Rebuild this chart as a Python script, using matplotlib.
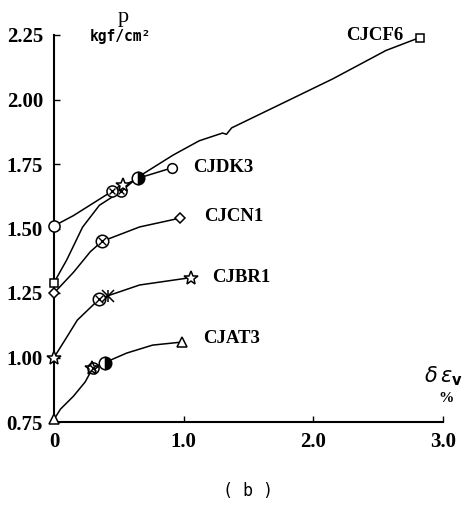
import matplotlib
matplotlib.use("Agg")
import matplotlib.pyplot as plt

# ---- data ----
cf6_x = [0.00, 0.10, 0.22, 0.35, 0.52, 0.65, 0.92, 1.12, 1.30, 1.33, 1.37, 1.74, 2.15, 2.56, 2.82]
cf6_y = [1.29, 1.38, 1.505, 1.59, 1.645, 1.70, 1.785, 1.84, 1.87, 1.865, 1.89, 1.98, 2.08, 2.19, 2.24]

dk3_x = [0.00, 0.15, 0.45, 0.65, 0.91]
dk3_y = [1.51, 1.55, 1.645, 1.695, 1.735]

cn1_x = [0.00, 0.15, 0.28, 0.37, 0.66, 0.97]
cn1_y = [1.25, 1.33, 1.41, 1.45, 1.506, 1.54]

br1_x = [0.00, 0.085, 0.18, 0.35, 0.42, 0.66, 1.06]
br1_y = [1.00, 1.068, 1.145, 1.227, 1.24, 1.281, 1.31]

at3_x = [0.00, 0.05, 0.15, 0.24, 0.30, 0.39, 0.56, 0.76, 0.99]
at3_y = [0.76, 0.80, 0.85, 0.905, 0.96, 0.98, 1.017, 1.048, 1.06]

series_labels = ["CJCF6", "CJDK3", "CJCN1", "CJBR1", "CJAT3"]
x_ticks = [0, 1.0, 2.0, 3.0]
x_ticklabels = ["0", "1.0", "2.0", "3.0"]
y_ticks = [0.75, 1.00, 1.25, 1.50, 1.75, 2.00, 2.25]
y_ticklabels = ["0.75", "1.00", "1.25", "1.50", "1.75", "2.00", "2.25"]

fig = plt.figure(figsize=(4.68, 5.16), dpi=100)
ax = fig.add_axes([54/468, (516-422)/516, (443-54)/468, (422-35)/516])
ax.set_xlim(0, 3.0)
ax.set_ylim(0.75, 2.25)

lw = 1.1
mk = dict(markerfacecolor="white", markeredgecolor="black", markeredgewidth=1.1, clip_on=False)

def plot_line(xs, ys):
    ax.plot(xs, ys, color="black", lw=lw, clip_on=False, zorder=2)

def mark(x, y, m, s=7, **kw):
    d = dict(mk)
    d.update(kw)
    ax.plot([x], [y], marker=m, markersize=s, linestyle="none", zorder=3, **d)

def crossed(x, y, s=8):
    mark(x, y, "o", s)
    ax.plot([x], [y], marker="x", markersize=s*0.6, color="black", mew=1.0,
            linestyle="none", zorder=4, clip_on=False)

def half(x, y, s=8):
    mark(x, y, "o", s, fillstyle="right", markerfacecoloralt="white", markerfacecolor="black")

for xs, ys in [(cf6_x, cf6_y), (dk3_x, dk3_y), (cn1_x, cn1_y), (br1_x, br1_y), (at3_x, at3_y)]:
    plot_line(xs, ys)

# CF6
mark(cf6_x[0], cf6_y[0], "s", 6)
mark(cf6_x[-1], cf6_y[-1], "s", 6)
crossed(cf6_x[4], cf6_y[4])
mark(0.53, 1.67, "*", 10)
# DK3
mark(dk3_x[0], dk3_y[0], "o", 8)
crossed(dk3_x[2], dk3_y[2])
half(dk3_x[3], dk3_y[3], 9)
mark(dk3_x[-1], dk3_y[-1], "o", 7)
# CN1
mark(cn1_x[0], cn1_y[0], "D", 5)
crossed(cn1_x[3], cn1_y[3], 9)
mark(cn1_x[-1], cn1_y[-1], "D", 5.5)
# BR1
mark(br1_x[0], br1_y[0], "*", 10)
crossed(br1_x[3], br1_y[3], 9)
ax.plot([br1_x[4]], [br1_y[4]], marker="x", markersize=8, color="black", mew=1.1,
        linestyle="none", zorder=4)
ax.plot([br1_x[4]], [br1_y[4]], marker="|", markersize=9, color="black", mew=1.1,
        linestyle="none", zorder=4)
mark(br1_x[-1], br1_y[-1], "*", 10)
# AT3
mark(at3_x[0], at3_y[0], "^", 7)
crossed(at3_x[4], at3_y[4])
mark(at3_x[4] - 0.01, at3_y[4], "*", 10, markerfacecolor="none")
half(at3_x[5], at3_y[5], 9)
mark(at3_x[-1], at3_y[-1], "^", 7)

# spines / ticks
for sp in ["top", "right"]:
    ax.spines[sp].set_visible(False)
for sp in ["left", "bottom"]:
    ax.spines[sp].set_linewidth(1.5)
ax.set_xticks(x_ticks)
ax.set_xticklabels(x_ticklabels)
ax.set_yticks(y_ticks)
ax.set_yticklabels(y_ticklabels)
ax.tick_params(direction="in", length=4, width=1.0, pad=7)
for lab in ax.get_xticklabels() + ax.get_yticklabels():
    lab.set_fontfamily("Liberation Serif")
    lab.set_fontweight("bold")
    lab.set_fontsize(15)
ax.tick_params(axis="y", pad=8)

# labels
lf = dict(family="Liberation Serif", weight="bold", size=13.5, va="center", ha="left")
ax.text(2.25, 2.25, series_labels[0], **lf)
ax.text(1.07, 1.735, series_labels[1], **lf)
ax.text(1.16, 1.545, series_labels[2], **lf)
ax.text(1.22, 1.31, series_labels[3], **lf)
ax.text(1.15, 1.075, series_labels[4], **lf)

fig.text(123/468, 1 - 17/516, "p", ha="center", va="center",
         family="Liberation Serif", size=16)
fig.text(120/468, 1 - 37/516, "kgf/cm²", ha="center", va="center",
         family="DejaVu Sans Mono", weight="bold", size=10.5)
fig.text(443/468, 1 - 376/516, r"$\delta\,\varepsilon_{\mathbf{v}}$", ha="center", va="center",
         size=15)
fig.text(446/468, 1 - 398/516, "%", ha="center", va="center",
         family="Liberation Serif", weight="bold", size=11)
fig.text(248/468, 1 - 491/516, "( b )", ha="center", va="center",
         family="DejaVu Sans Mono", size=12)

fig.savefig("out.png", dpi=100, facecolor="white")
